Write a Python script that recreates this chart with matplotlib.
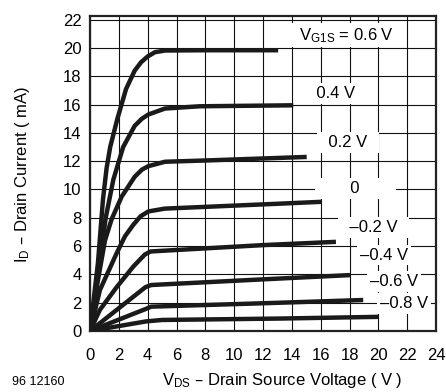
import matplotlib
matplotlib.use("Agg")
import matplotlib.pyplot as plt

plt.rcParams['font.family'] = ['Liberation Sans', 'DejaVu Sans']
plt.rcParams['mathtext.default'] = 'regular'

# Output characteristics: drain current (mA) vs drain-source voltage (V)
v06 = [0, 0.55, 0.9, 1.15, 1.4, 1.9, 2.5, 3.1, 3.55, 4.0, 4.5, 5.2, 8, 13.05]
i06 = [0, 4.8, 9.3, 11.5, 13.0, 15.0, 17.1, 18.4, 19.0, 19.4, 19.7, 19.82, 19.84, 19.84]
v04 = [0, 0.6, 1.09, 1.62, 2.3, 3.1, 3.6, 4.05, 5.2, 7.6, 14.1]
i04 = [0, 4.3, 8.0, 10.7, 13.0, 14.5, 15.0, 15.3, 15.72, 15.88, 15.95]
v02 = [0, 0.5, 1.04, 1.5, 2.2, 3.1, 3.6, 4.05, 5.2, 8, 15.03]
i02 = [0, 3.3, 6.4, 7.9, 9.5, 10.9, 11.4, 11.65, 11.96, 12.05, 12.3]
v00 = [0, 0.69, 1.85, 2.43, 3.0, 3.5, 4.05, 5.2, 13.2, 16.07]
i00 = [0, 2.9, 5.5, 6.7, 7.5, 8.1, 8.45, 8.65, 9.0, 9.13]
vm02 = [0, 0.69, 1.85, 3.0, 3.8, 4.2, 12, 17.06]
im02 = [0, 1.5, 3.1, 4.55, 5.4, 5.62, 6.07, 6.3]
vm04 = [0, 3.85, 4.25, 12, 18.03]
im04 = [0, 3.1, 3.25, 3.65, 3.95]
vm06 = [0, 3.85, 4.25, 12, 18.95]
im06 = [0, 1.55, 1.72, 1.96, 2.19]
vm08 = [0, 3.9, 5.0, 13.2, 20.0]
im08 = [0, 0.68, 0.78, 0.88, 1.0]

curves = [(v06, i06), (v04, i04), (v02, i02), (v00, i00),
          (vm02, im02), (vm04, im04), (vm06, im06), (vm08, im08)]

labels = ['$V_{G1S}$ = 0.6 V', '0.4 V', '0.2 V', '0',
          '–0.2 V', '–0.4 V', '–0.6 V', '–0.8 V']
label_x = [17.5, 17.06, 17.9, 18.4, 19.66, 20.4, 21.1, 21.8]
label_y = [20.9, 16.78, 13.3, 10.07, 7.3, 5.37, 3.48, 1.96]
label_pad = ['\u2002', '\u2002', '\u2002', '\u2003\u2003', '\u2002', '', '', '']

xticks = list(range(0, 25, 2))
yticks = list(range(0, 23, 2))

fig = plt.figure(figsize=(4.46, 3.92), dpi=100)
ax = fig.add_axes([90 / 446, 61 / 392, 346 / 446, 315 / 392])

ax.set_xlim(0, 24)
ax.set_ylim(0, 22.26)
ax.set_xticks(xticks)
ax.set_yticks(yticks)
ax.set_xticklabels([str(t) for t in xticks])
ax.set_yticklabels([str(t) for t in yticks])
ax.tick_params(axis='x', length=0, pad=12, labelsize=12)
ax.tick_params(axis='y', length=0, pad=6, labelsize=12)
ax.grid(True, color='#111111', linewidth=0.8)
ax.set_axisbelow(True)
for s in ax.spines.values():
    s.set_linewidth(1.6)
    s.set_color('#222222')

for v, i in curves:
    ax.plot(v, i, color='#1a1a1a', linewidth=3.2, solid_capstyle='butt',
            solid_joinstyle='round', zorder=3)

for t, x, y, p in zip(labels, label_x, label_y, label_pad):
    ax.text(x, y, p + t + p, ha='center', va='center', fontsize=12, zorder=4,
            bbox=dict(facecolor='white', edgecolor='none', pad=2.0))

fig.text(23 / 446, 1 - 174 / 392, '$I_D$ – Drain Current ( mA)', rotation=90,
         ha='center', va='center', fontsize=12)
fig.text(282 / 446, 1 - 381 / 392, '$V_{DS}$ – Drain Source Voltage ( V )',
         ha='center', va='center', fontsize=12)
fig.text(12 / 446, 1 - 382 / 392, '96 12160', ha='left', va='center', fontsize=9)

fig.savefig('out.png', dpi=100)
